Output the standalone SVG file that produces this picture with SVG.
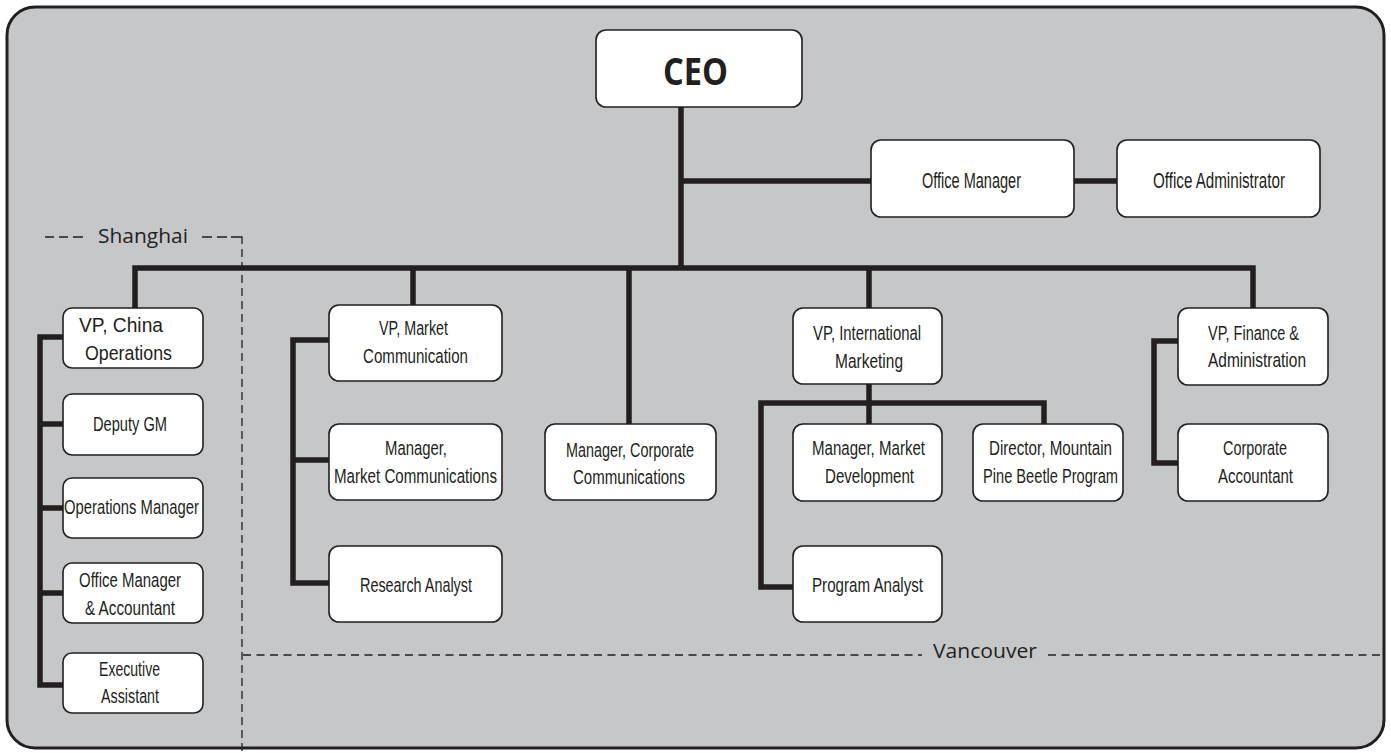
<svg xmlns="http://www.w3.org/2000/svg" width="1391" height="753" viewBox="0 0 1391 753">
<style>
.bg{fill:#c6c7c9;stroke:#231f20;stroke-width:3}
.box{fill:#ffffff;stroke:#231f20;stroke-width:1.6}
.ln{fill:none;stroke:#231f20;stroke-width:5.5;stroke-linejoin:miter;stroke-linecap:butt}
.dash{fill:none;stroke:#231f20;stroke-width:1.3}
.t{font-family:"Liberation Sans",Arial,sans-serif;font-size:20.5px;fill:#231f20}
.tb{font-size:22px}
.lbl{font-family:"Open Sans","Liberation Sans",sans-serif;font-size:20px;fill:#231f20}
.ceo{font-family:"Open Sans","Liberation Sans",sans-serif;font-weight:bold;font-size:37px;fill:#231f20}
</style>
<rect class="bg" x="7" y="7" width="1377" height="741" rx="28" ry="28"/>

<g id="regions">
<path class="dash" d="M45 237H54M59 237H68M73 237H83"/>
<text class="lbl" x="98" y="243" textLength="90" lengthAdjust="spacingAndGlyphs">Shanghai</text>
<path class="dash" d="M202 237H212M217 237H227M231 237H242V244"/>
<path class="dash" d="M242 249V753" stroke-dasharray="8 5"/>
<path class="dash" d="M243 655H922" stroke-dasharray="8 5.5"/>
<text class="lbl" x="933" y="658" textLength="104" lengthAdjust="spacingAndGlyphs">Vancouver</text>
<path class="dash" d="M1048 655H1384" stroke-dasharray="8 5.5"/>
</g>

<g id="connectors">
<path class="ln" d="M681 107V268"/>
<path class="ln" d="M681 181H871M1074 181H1117"/>
<path class="ln" d="M135 308V268H1253V308"/>
<path class="ln" d="M413 268V305M629 268V424M869 268V308"/>
<path class="ln" d="M63 337H40V685H63M40 424H63M40 508H63M40 593H63"/>
<path class="ln" d="M329 340H293V583H329M293 460H329"/>
<path class="ln" d="M869 384V424M793 587H761V403H1044V424"/>
<path class="ln" d="M1178 341H1154V463H1178"/>
</g>

<g id="ceo"><rect class="box" x="596" y="30" width="206" height="77" rx="10"/><text class="ceo" x="663" y="85" textLength="65" lengthAdjust="spacingAndGlyphs">CEO</text></g>
<g id="office-manager"><rect class="box" x="871" y="140" width="203" height="77" rx="10"/><text class="t tb" x="922" y="188" textLength="99" lengthAdjust="spacingAndGlyphs">Office Manager</text></g>
<g id="office-administrator"><rect class="box" x="1117" y="140" width="203" height="77" rx="10"/><text class="t tb" x="1153" y="188" textLength="132" lengthAdjust="spacingAndGlyphs">Office Administrator</text></g>

<g id="vp-china"><rect class="box" x="63" y="308" width="140" height="60" rx="9"/><text class="t" x="79" y="332" textLength="84" lengthAdjust="spacingAndGlyphs">VP, China</text><text class="t" x="85" y="360" textLength="87" lengthAdjust="spacingAndGlyphs">Operations</text></g>
<g id="deputy-gm"><rect class="box" x="63" y="394" width="140" height="61" rx="9"/><text class="t" x="93" y="431" textLength="74" lengthAdjust="spacingAndGlyphs">Deputy GM</text></g>
<g id="operations-manager"><rect class="box" x="63" y="478" width="140" height="60" rx="9"/><text class="t" x="64" y="514" textLength="135" lengthAdjust="spacingAndGlyphs">Operations Manager</text></g>
<g id="office-manager-accountant"><rect class="box" x="63" y="563" width="140" height="60" rx="9"/><text class="t" x="79" y="587" textLength="102" lengthAdjust="spacingAndGlyphs">Office Manager</text><text class="t" x="85" y="615" textLength="90" lengthAdjust="spacingAndGlyphs">&amp; Accountant</text></g>
<g id="executive-assistant"><rect class="box" x="63" y="653" width="140" height="60" rx="9"/><text class="t" x="99" y="676" textLength="61" lengthAdjust="spacingAndGlyphs">Executive</text><text class="t" x="101" y="703" textLength="58" lengthAdjust="spacingAndGlyphs">Assistant</text></g>

<g id="vp-market"><rect class="box" x="329" y="305" width="173" height="76" rx="10"/><text class="t" x="379" y="335" textLength="69" lengthAdjust="spacingAndGlyphs">VP, Market</text><text class="t" x="363" y="363" textLength="105" lengthAdjust="spacingAndGlyphs">Communication</text></g>
<g id="manager-market-comm"><rect class="box" x="329" y="424" width="173" height="76" rx="10"/><text class="t" x="385" y="455" textLength="62" lengthAdjust="spacingAndGlyphs">Manager,</text><text class="t" x="334" y="483" textLength="163" lengthAdjust="spacingAndGlyphs">Market Communications</text></g>
<g id="research-analyst"><rect class="box" x="329" y="546" width="173" height="76" rx="10"/><text class="t" x="360" y="592" textLength="112" lengthAdjust="spacingAndGlyphs">Research Analyst</text></g>

<g id="manager-corp-comm"><rect class="box" x="545" y="424" width="171" height="76" rx="10"/><text class="t" x="566" y="457" textLength="128" lengthAdjust="spacingAndGlyphs">Manager, Corporate</text><text class="t" x="573" y="484" textLength="112" lengthAdjust="spacingAndGlyphs">Communications</text></g>

<g id="vp-intl"><rect class="box" x="793" y="308" width="149" height="76" rx="10"/><text class="t" x="813" y="340" textLength="108" lengthAdjust="spacingAndGlyphs">VP, International</text><text class="t" x="835" y="368" textLength="68" lengthAdjust="spacingAndGlyphs">Marketing</text></g>
<g id="manager-market-dev"><rect class="box" x="793" y="424" width="149" height="77" rx="10"/><text class="t" x="812" y="455" textLength="113" lengthAdjust="spacingAndGlyphs">Manager, Market</text><text class="t" x="825" y="483" textLength="89" lengthAdjust="spacingAndGlyphs">Development</text></g>
<g id="director-mpb"><rect class="box" x="973" y="424" width="150" height="77" rx="10"/><text class="t" x="989" y="455" textLength="123" lengthAdjust="spacingAndGlyphs">Director, Mountain</text><text class="t" x="983" y="483" textLength="135" lengthAdjust="spacingAndGlyphs">Pine Beetle Program</text></g>
<g id="program-analyst"><rect class="box" x="793" y="546" width="149" height="76" rx="10"/><text class="t" x="812" y="592" textLength="111" lengthAdjust="spacingAndGlyphs">Program Analyst</text></g>

<g id="vp-finance"><rect class="box" x="1178" y="308" width="150" height="77" rx="10"/><text class="t" x="1208" y="340" textLength="91" lengthAdjust="spacingAndGlyphs">VP, Finance &amp;</text><text class="t" x="1208" y="367" textLength="98" lengthAdjust="spacingAndGlyphs">Administration</text></g>
<g id="corporate-accountant"><rect class="box" x="1178" y="424" width="150" height="77" rx="10"/><text class="t" x="1223" y="455" textLength="64" lengthAdjust="spacingAndGlyphs">Corporate</text><text class="t" x="1218" y="483" textLength="75" lengthAdjust="spacingAndGlyphs">Accountant</text></g>
</svg>
